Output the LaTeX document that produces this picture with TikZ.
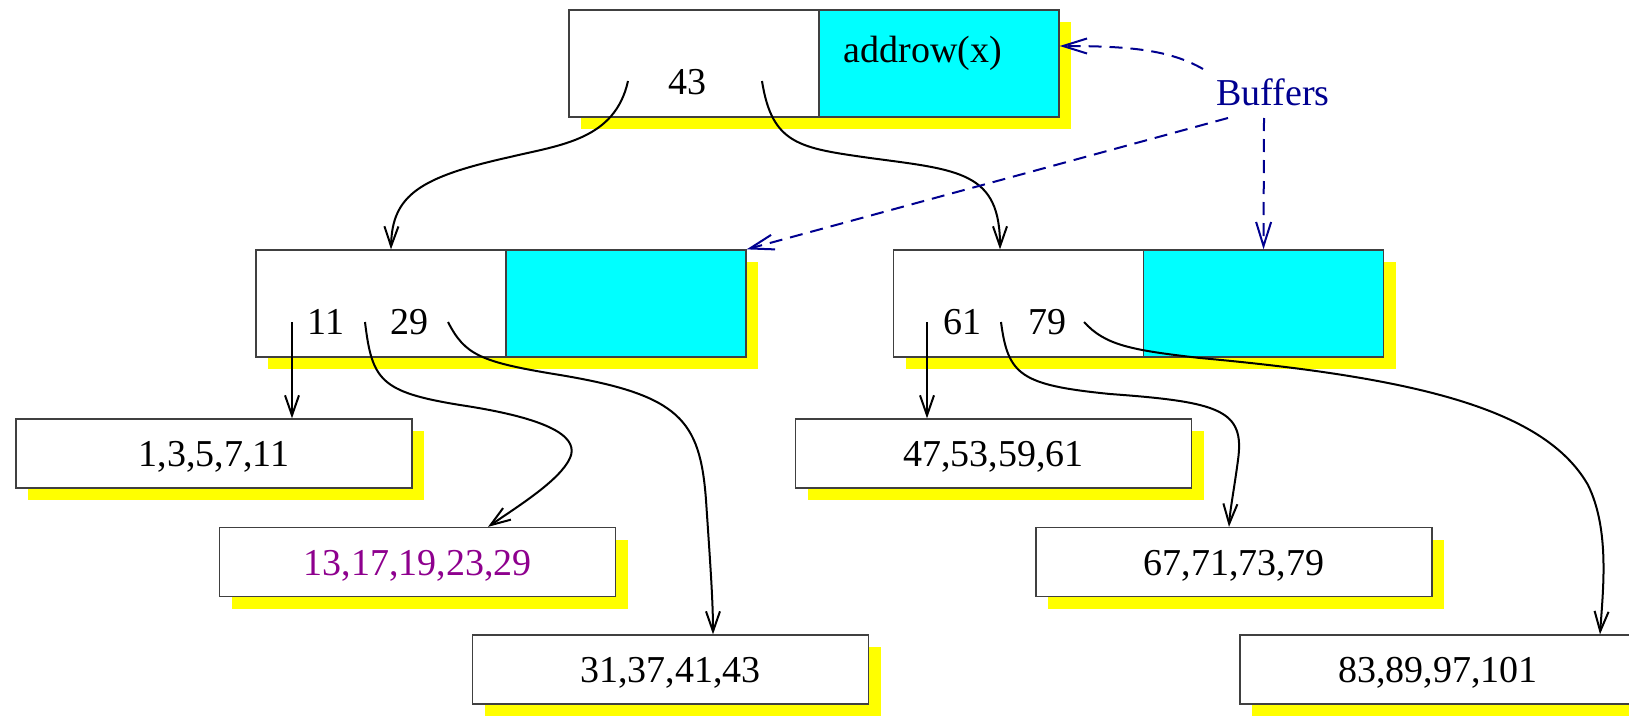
\documentclass[tikz,border=0pt]{standalone}
\usepackage{fontspec}
\setmainfont{Liberation Serif}
\usetikzlibrary{arrows.meta,shadows,calc}
\definecolor{bufcyan}{RGB}{0,255,255}
\definecolor{shadowyellow}{RGB}{255,255,0}
\definecolor{keypurple}{RGB}{142,0,142}
\definecolor{bufnavy}{RGB}{0,0,144}
\definecolor{edgegray}{RGB}{64,64,64}
\begin{document}
\begin{tikzpicture}[x=1pt,y=-1pt,
  every node/.style={font=\fontsize{38}{46}\selectfont},
  box/.style={draw=edgegray, line width=1.3pt, fill=white, inner sep=0pt,
    drop shadow={shadow xshift=12pt, shadow yshift=-12pt, fill=shadowyellow, opacity=1}},
  twobox/.style={box, minimum width=490pt, minimum height=107pt},
  leaf/.style={box, minimum width=396pt, minimum height=69pt, text height=26pt, text depth=0pt},
  buf/.style={draw=edgegray, line width=1.3pt, fill=bufcyan, inner sep=0pt, minimum width=240pt, minimum height=107pt},
  key/.style={anchor=base, inner sep=0pt},
  arr/.style={draw=black, line width=2pt, -{Straight Barb[length=20pt,width=14pt]}},
  dasharr/.style={draw=bufnavy, line width=2pt, dash pattern=on 13pt off 8pt, -{Straight Barb[length=24pt,width=15pt]}}
]
\clip (0,0) rectangle (1629,717);
\fill[white] (0,0) rectangle (1629,717);

% top node
\node[twobox] (top) at (814,63.5) {};
\node[buf, anchor=east] (topbuf) at (top.east) {};
\node[key] (k43) at (687,94) {43};
\node[key] (addrow) at (923,63) {addrow(x)};

% level 2
\node[twobox] (l2) at (501,303.5) {};
\node[buf, anchor=east] (l2buf) at (l2.east) {};
\node[key] (k11) at (326,334) {11};
\node[key] (k29) at (409,334) {29};
\node[twobox] (r2) at (1138.5,303.5) {};
\node[buf, anchor=east] (r2buf) at (r2.east) {};
\node[key] (k61) at (962,334) {61};
\node[key] (k79) at (1047,334) {79};

% leaves
\node[leaf] (lf1) at (214,453.5) {1,3,5,7,11};
\node[leaf, text=keypurple] (lf2) at (417.5,562) {13,17,19,23,29};
\node[leaf] (lf3) at (670.5,669.5) {31,37,41,43};
\node[leaf] (lf4) at (993.5,453.5) {47,53,59,61};
\node[leaf] (lf5) at (1234,562) {67,71,73,79};
\node[leaf] (lf6) at (1438,669.5) {83,89,97,101};

\node[anchor=base, inner sep=0pt, text=bufnavy] (buffers) at (1273,105.7) {Buffers};

% connector start points
\coordinate (a1) at (628,81);
\coordinate (a2) at (762,81);
\coordinate (b1) at (292,322);
\coordinate (b2) at (365,322);
\coordinate (b3) at (448,322);
\coordinate (c1) at (927,322);
\coordinate (c2) at (1001,322);
\coordinate (c3) at (1084,322);
\coordinate (d1) at (1203,69);
\coordinate (d2) at (1228,118);
\coordinate (d3) at (1264,118);

\draw[arr] (a1) .. controls (615,140) and (560,145) .. (510,157) .. controls (420,177) and (392,195) .. (l2.north -| 391,0);
\draw[arr] (a2) .. controls (772,145) and (800,148) .. (870,158) .. controls (960,170) and (1000,172) .. (r2.north -| 1000,0);
\draw[arr] (b1) -- (b1 |- lf1.north);
\draw[arr] (b2) .. controls (372,380) and (380,392) .. (460,405) .. controls (560,420) and (578,440) .. (570,458) .. controls (560,480) and (520,505) .. (lf2.north -| 488,0);
\draw[arr] (b3) .. controls (465,355) and (480,362) .. (560,375) .. controls (680,395) and (700,420) .. (706,500) .. controls (710,560) and (713,600) .. (lf3.north -| 713,0);
\draw[arr] (c1) -- (c1 |- lf4.north);
\draw[arr] (c2) .. controls (1008,375) and (1020,385) .. (1110,394) .. controls (1220,402) and (1245,410) .. (1238,460) .. controls (1234,490) and (1230,510) .. (lf5.north -| 1229,0);
\draw[arr] (c3) .. controls (1105,345) and (1130,350) .. (1200,358) .. controls (1420,378) and (1545,410) .. (1588,485) .. controls (1610,530) and (1603,590) .. (lf6.north -| 1600,0);

\draw[dasharr] (d1) .. controls (1170,50) and (1130,46) .. (topbuf.east |- 0,46);
\draw[dasharr] (d2) -- (l2buf.north east);
\draw[dasharr] (d3) -- (r2buf.north);
\end{tikzpicture}
\end{document}
